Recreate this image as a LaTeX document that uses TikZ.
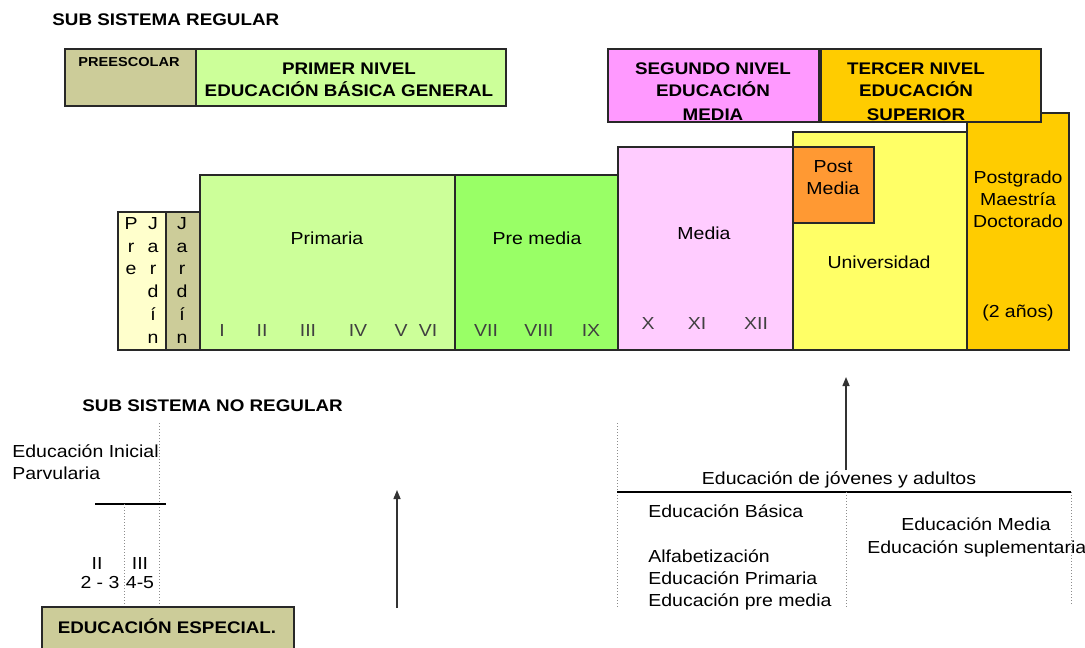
\documentclass[tikz,border=0pt]{standalone}
\usepackage{fontspec}
\setmainfont{Liberation Sans}[FakeStretch=1.12]
\usetikzlibrary{arrows.meta}
\definecolor{cKhaki}{RGB}{204,204,153}
\definecolor{cLgreen}{RGB}{204,255,153}
\definecolor{cGreen}{RGB}{153,255,102}
\definecolor{cMagenta}{RGB}{255,153,255}
\definecolor{cPink}{RGB}{255,204,255}
\definecolor{cGold}{RGB}{255,204,0}
\definecolor{cYellow}{RGB}{255,255,102}
\definecolor{cOrange}{RGB}{255,153,51}
\definecolor{cCream}{RGB}{255,255,204}
\definecolor{cLine}{RGB}{40,40,40}
\begin{document}
\begin{tikzpicture}[x=0.5pt,y=-0.5pt,
  bx/.style={draw=cLine, line width=0.8pt},
  txt/.style={inner sep=0pt, font=\fontsize{8.7}{11}\selectfont, anchor=base},
  num/.style={txt, text=black!75},
  hdr/.style={inner sep=0pt, font=\fontsize{8.4}{11}\selectfont\bfseries, anchor=base},
  vcol/.style={inner sep=0pt, align=center, anchor=north, font=\fontsize{8.7}{11.4}\selectfont},
  dotln/.style={draw=black!45, line width=0.5pt, densely dotted},
  solidln/.style={draw=black, line width=0.7pt},
  arr/.style={draw=black!80, line width=0.7pt, -{Triangle[length=4.5pt,width=3.5pt]}}]
\useasboundingbox (0,0) rectangle (1085,647);
% ---------- titles
\node[hdr, anchor=base west] (tReg) at (52,26) {SUB SISTEMA REGULAR};
% ---------- top level boxes
\draw[bx, fill=cKhaki] (65,49) rectangle (196,106);
\node[hdr, font=\fontsize{6.5}{8}\selectfont\bfseries] (tPre) at (129,67) {PREESCOLAR};
\draw[bx, fill=cLgreen] (196,49) rectangle (506,106);
\node[hdr] (tPrim1) at (349,75) {PRIMER NIVEL};
\node[hdr] (tPrim2) at (349,97) {EDUCACIÓN BÁSICA GENERAL};
\draw[bx, fill=cMagenta] (608,49) rectangle (819,122);
\node[hdr] (tSeg1) at (713,75) {SEGUNDO NIVEL};
\node[hdr] (tSeg2) at (713,97) {EDUCACIÓN};
\node[hdr] (tSeg3) at (713,120) {MEDIA};
% postgrado first (under tercer)
\draw[bx, fill=cGold] (967,113) rectangle (1069,350);
\draw[bx, fill=cGold] (821,49) rectangle (1041,122);
\node[hdr] (tTer1) at (916,75) {TERCER NIVEL};
\node[hdr] (tTer2) at (916,97) {EDUCACIÓN};
\node[hdr] (tTer3) at (916,120) {SUPERIOR};
% ---------- main row
\draw[bx, fill=cCream] (118,212) rectangle (166,350);
\draw[bx, fill=cKhaki] (166,212) rectangle (200,350);
\draw[bx, fill=cLgreen] (200,175) rectangle (455,350);
\draw[bx, fill=cGreen] (455,175) rectangle (618,350);
\draw[bx, fill=cPink] (618,147) rectangle (793,350);
\draw[bx, fill=cYellow] (793,132) rectangle (967,350);
\draw[bx, fill=cOrange] (793,147) rectangle (874,223);
\node[vcol] (cPre) at (131,217) {P\\r\\e};
\node[vcol] (cJar1) at (153,217) {J\\a\\r\\d\\í\\n};
\node[vcol] (cJar2) at (182,217) {J\\a\\r\\d\\í\\n};
\node[txt] (tPrimaria) at (327,244) {Primaria};
\node[num] (n1) at (222,336) {I};
\node[num] (n2) at (262,336) {II};
\node[num] (n3) at (308,336) {III};
\node[num] (n4) at (358,336) {IV};
\node[num] (n5) at (401,336) {V};
\node[num] (n6) at (428,336) {VI};
\node[txt] (tPremedia) at (537,244) {Pre media};
\node[num] (n7) at (486,336) {VII};
\node[num] (n8) at (539,336) {VIII};
\node[num] (n9) at (591,336) {IX};
\node[txt] (tMedia) at (704,239) {Media};
\node[num] (n10) at (648,329) {X};
\node[num] (n11) at (697,329) {XI};
\node[num] (n12) at (756,329) {XII};
\node[txt] (tPost1) at (833,172) {Post};
\node[txt] (tPost2) at (833,194) {Media};
\node[txt] (tUni) at (879,268) {Universidad};
\node[txt] (tPg1) at (1018,183) {Postgrado};
\node[txt] (tPg2) at (1018,205) {Maestría};
\node[txt] (tPg3) at (1018,227) {Doctorado};
\node[txt] (tPg4) at (1018,317) {(2 años)};
% ---------- no regular
\node[hdr, anchor=base west] (tNoReg) at (82,411) {SUB SISTEMA NO REGULAR};
\node[txt, anchor=base west] (tIni1) at (12,457) {Educación Inicial};
\node[txt, anchor=base west] (tIni2) at (12,479) {Parvularia};
\coordinate (dA1) at (159,423);
\coordinate (dA2) at (159,607);
\coordinate (hA1) at (95,504);
\coordinate (hA2) at (166,504);
\coordinate (dB1) at (124,504);
\coordinate (dB2) at (124,607);
\draw[dotln] (dA1) -- (dA2);
\draw[solidln] (hA1) -- (hA2);
\draw[dotln] (dB1) -- (dB2);
\node[txt] (tII) at (97,569) {II};
\node[txt] (t23) at (100,588) {2 - 3};
\node[txt] (tIII) at (140,569) {III};
\node[txt] (t45) at (140,588) {4-5};
\draw[bx, fill=cKhaki] (42,607) rectangle (294,655);
\node[hdr] (tEsp) at (167,633) {EDUCACIÓN ESPECIAL.};
\coordinate (aL1) at (397,608);
\coordinate (aL2) at (397,490);
\draw[arr] (aL1) -- (aL2);
% ---------- jovenes y adultos
\node[txt] (tJov) at (839,484) {Educación de jóvenes y adultos};
\coordinate (aR1) at (846,470);
\coordinate (aR2) at (846,377);
\draw[arr] (aR1) -- (aR2);
\coordinate (dC1) at (617,423);
\coordinate (dC2) at (617,608);
\coordinate (hB1) at (617,492);
\coordinate (hB2) at (1071,492);
\coordinate (dD1) at (846,492);
\coordinate (dD2) at (846,608);
\coordinate (dE1) at (1071,492);
\coordinate (dE2) at (1071,606);
\draw[dotln] (dC1) -- (dC2);
\draw[solidln] (hB1) -- (hB2);
\draw[dotln] (dD1) -- (dD2);
\draw[dotln] (dE1) -- (dE2);
\node[txt, anchor=base west] (tBas) at (648,517) {Educación Básica};
\node[txt, anchor=base west] (tAlf) at (648,562) {Alfabetización};
\node[txt, anchor=base west] (tEPri) at (648,584) {Educación Primaria};
\node[txt, anchor=base west] (tEPre) at (648,606) {Educación pre media};
\node[txt] (tEMed) at (976,530) {Educación Media};
\node[txt, anchor=base west] (tESup) at (867,553) {Educación suplementaria};
\end{tikzpicture}
\end{document}
